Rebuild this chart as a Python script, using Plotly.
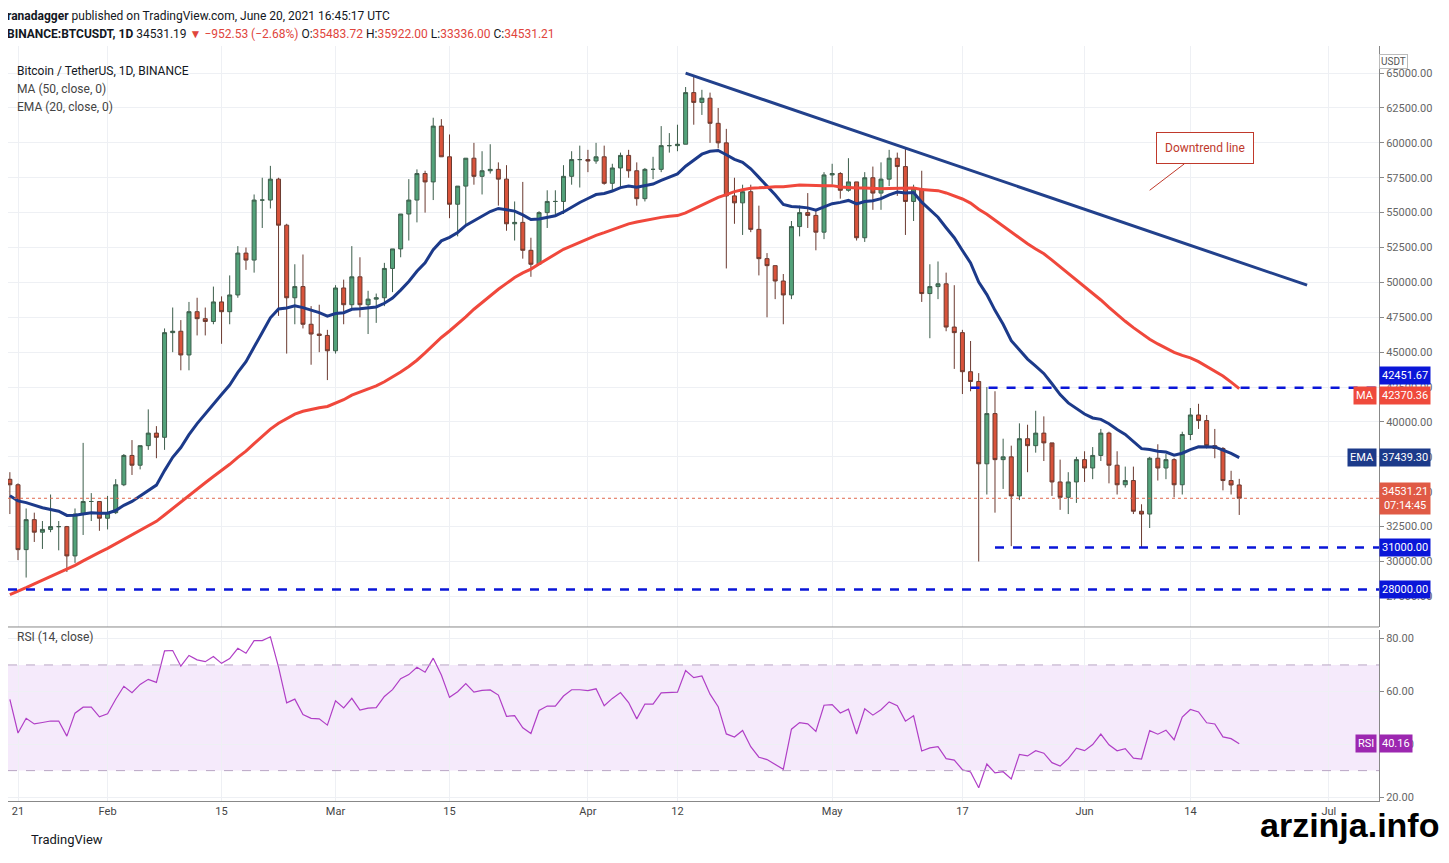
import numpy as np
import pandas as pd
import plotly.graph_objects as go
from plotly.subplots import make_subplots

# history closes (Dec 1 2020 - Jan 19 2021) used only for indicator warm-up
hist_close = [18800,19200,19450,18700,19150,19350,19170,18320,18550,18250,18040,18800,19170,19270,19440,21380,22840,23110,23860,23480,22750,23820,23250,23720,24660,26440,26250,27040,27360,28880,28990,
              29400,32200,33000,31990,33970,36820,39370,40670,40240,38240,35540,33910,37390,39150,36770,36010,35820,36630,35890]

dates = pd.date_range("2021-01-20", "2021-06-20", freq="D")
close = [35500,30850,33000,32100,32300,32500,32500,30400,33400,34300,34300,33100,
         33500,35500,37600,36900,38300,39200,38900,46400,46500,44800,47900,47400,47200,48600,47900,49100,52100,51600,55900,55900,57400,54100,48900,49700,47000,46300,46200,45100,
         49600,48400,50400,48400,48800,48900,51000,52400,54900,55900,57800,57200,61200,59000,55600,56900,58900,57600,58000,58100,57400,54200,54300,52300,51300,55000,55800,55800,57600,58800,58800,
         58700,59000,57100,58200,59100,58000,56000,58100,58100,59800,59800,59900,63600,62900,63200,61400,60000,56200,55700,56500,53800,51700,51200,50100,49100,54000,55000,54800,53600,57700,
         57800,56600,57200,53200,57500,56400,57400,58900,58300,55800,56700,49200,49700,49900,46800,46400,43600,42900,37000,40600,37300,37500,34700,38800,38300,39200,38500,35700,34600,35700,37300,
         36700,37600,39200,36900,35500,35800,33600,33400,37400,36700,37300,35500,39100,40500,40100,38300,38100,35800,35483.72,34531.21]
high = [36400,35600,33800,33500,32900,34800,32900,32550,33800,38500,34900,34300,
        34700,35900,37700,38700,38300,40900,39700,46700,48200,47300,48600,48900,48200,49700,49000,50500,52600,52500,56300,57500,58350,57500,54200,51300,52000,48300,48400,46600,
        49800,50200,52600,51800,49400,49200,51400,52400,54900,57400,58100,58000,61800,61700,60600,56900,58900,60000,59400,59900,58600,58400,55800,57200,53200,55100,56600,56600,58400,59400,59800,
        59500,60000,59800,58500,59300,59500,58600,58200,59000,61200,60700,61300,64000,64850,63800,63600,62500,61000,57500,57000,57000,55500,52100,51200,50600,54400,55500,56400,55200,57900,
        58500,57900,58900,57200,57900,58300,58600,59500,59300,59600,57000,58000,51300,51500,50700,49800,46600,45800,43500,42500,42200,38800,38300,39900,39800,40800,40400,38200,37300,36400,37500,
        37900,38200,39500,39300,37900,36800,36800,34100,37500,38400,37700,37400,39300,41000,41300,40500,39500,38200,36500,35922]
low = [33400,30100,28850,31400,30900,32100,30800,29250,29900,31900,32900,32200,
       32300,33400,35400,36200,36600,38000,37400,38000,45000,43700,43700,46200,46200,47000,45600,47000,48900,50900,50700,53900,55300,47600,44900,47000,46700,44100,45000,43000,
       44900,47000,48100,47500,46300,47100,48300,49300,51800,53000,54300,55000,55900,59000,54600,53300,54100,57000,56300,57800,55500,53700,53000,51700,50400,51300,53900,54700,54900,57000,56800,
       57900,58500,57000,56500,56800,57500,55500,55800,57400,57900,59300,59400,59900,61300,62000,60000,59600,51000,54200,53400,53600,50500,47500,48800,47000,48800,53300,53900,52300,53100,
       57000,56000,56500,53000,52900,55200,55200,56900,56200,53400,54400,48600,46000,48800,46500,43800,42000,42200,30000,34800,33500,35200,31100,34400,36400,37800,37200,34700,33700,33400,34200,
       35700,35900,37200,35600,34800,35300,33400,31000,32400,35800,35900,34600,34800,38700,39500,38100,37400,35100,34800,33336]

tick_dates = ["2021-01-21","2021-02-01","2021-02-15","2021-03-01","2021-03-15","2021-04-01","2021-04-12","2021-05-01","2021-05-17","2021-06-01","2021-06-14","2021-07-01"]
tick_text = ["21","Feb","15","Mar","15","Apr","12","May","17","Jun","14","Jul"]
price_ticks = list(range(27500, 65001, 2500))

# indicators
allc = pd.Series(hist_close + close, dtype=float)
n0 = len(hist_close)
opens = (hist_close[-1:] + close[:-1])
opens[-1] = 35483.72
ma50 = allc.rolling(50, min_periods=1).mean().iloc[n0:].values
ema20 = allc.ewm(span=20, adjust=False).mean().iloc[n0:].values
d = allc.diff()
up = d.clip(lower=0).ewm(alpha=1/14, adjust=False).mean()
dn = (-d.clip(upper=0)).ewm(alpha=1/14, adjust=False).mean()
rsi = (100 - 100/(1+up/dn)).iloc[n0:].values

fig = make_subplots(rows=2, cols=1, shared_xaxes=True, vertical_spacing=0.004, row_heights=[0.772, 0.228])
fig.add_trace(go.Candlestick(x=dates, open=opens, high=high, low=low, close=close,
    increasing=dict(line=dict(color="#3d5e4c", width=1), fillcolor="#53a27a"),
    decreasing=dict(line=dict(color="#6b3a30", width=1), fillcolor="#d9533b"),
    whiskerwidth=0, showlegend=False), row=1, col=1)
fig.add_trace(go.Scatter(x=dates, y=ema20, mode="lines", line=dict(color="#1c3a8a", width=3), showlegend=False), row=1, col=1)
fig.add_trace(go.Scatter(x=dates, y=ma50, mode="lines", line=dict(color="#f0483c", width=3), showlegend=False), row=1, col=1)
fig.add_trace(go.Scatter(x=dates, y=rsi, mode="lines", line=dict(color="#b03fc6", width=1.2), showlegend=False), row=2, col=1)

x0, x1 = "2021-01-19 18:30", "2021-07-07 04:00"
shapes = [
    dict(type="rect", xref="x2", yref="y2", x0=x0, x1=x1, y0=30, y1=70, fillcolor="rgba(200,140,235,0.18)", line=dict(width=0), layer="below"),
    dict(type="line", xref="x2", yref="y2", x0=x0, x1=x1, y0=70, y1=70, line=dict(color="#b9a6c4", width=1, dash="dash")),
    dict(type="line", xref="x2", yref="y2", x0=x0, x1=x1, y0=30, y1=30, line=dict(color="#b9a6c4", width=1, dash="dash")),
    dict(type="line", xref="x", yref="y", x0="2021-04-13", x1="2021-06-28 08:00", y0=65000, y1=49800, line=dict(color="#22418c", width=3)),
    dict(type="line", xref="x", yref="y", x0="2021-05-18", x1=x1, y0=42451.67, y1=42451.67, line=dict(color="#0a16d8", width=2.5, dash="dash")),
    dict(type="line", xref="x", yref="y", x0="2021-05-21", x1=x1, y0=31000, y1=31000, line=dict(color="#0a16d8", width=2.5, dash="dash")),
    dict(type="line", xref="x", yref="y", x0=x0, x1=x1, y0=28000, y1=28000, line=dict(color="#0a16d8", width=2.5, dash="dash")),
    dict(type="line", xref="x", yref="y", x0=x0, x1=x1, y0=34531.21, y1=34531.21, line=dict(color="#e0694f", width=1, dash="dot")),
    dict(type="line", xref="paper", yref="paper", x0=0, x1=1, y0=0.2305, y1=0.2305, line=dict(color="#888", width=1)),
]

def tag(y, text, bg, yref="y", tagtext=None):
    a = [dict(xref="paper", yref=yref, x=1.0, y=y, text=text, showarrow=False, xanchor="left",
              font=dict(color="white", size=11, family="Roboto"), bgcolor=bg, borderpad=2)]
    if tagtext:
        a.append(dict(xref="paper", yref=yref, x=0.9985, y=y, text=tagtext, showarrow=False, xanchor="right",
                      font=dict(color="white", size=11, family="Roboto"), bgcolor=bg, borderpad=2))
    return a

ann = []
ann += tag(42451.67 + 900, "42451.67", "#0a16d8")
ann += tag(42370.36 - 500, "42370.36", "#ef4a3c", tagtext="MA")
ann += tag(37439.30, "37439.30", "#1c3a8a", tagtext="EMA")
ann += tag(34531.21, "34531.21<br>07:14:45", "#e05a45")
ann += tag(31000, "31000.00", "#0a16d8")
ann += tag(28000, "28000.00", "#0a16d8")
ann += tag(rsi[-1], "%.2f" % rsi[-1], "#9c27b0", yref="y2", tagtext="RSI")
ann.append(dict(xref="paper", yref="y", x=1.0, y=65800, text="USDT", showarrow=False, xanchor="left",
                font=dict(size=10, color="#555"), bordercolor="#bbb", borderwidth=1, bgcolor="white"))
hdr = dict(xref="paper", yref="paper", showarrow=False, xanchor="left", font=dict(size=12, color="#131722", family="Roboto"))
ann.append(dict(hdr, x=-0.002, y=1.052, text="<b>ranadagger</b> published on TradingView.com, June 20, 2021 16:45:17 UTC"))
ann.append(dict(hdr, x=-0.002, y=1.028, text="<b>BINANCE:BTCUSDT, 1D</b> 34531.19 <span style='color:#e0453c'>▼ −952.53 (−2.68%)</span> O:<span style='color:#e0453c'>35483.72</span> H:<span style='color:#e0453c'>35922.00</span> L:<span style='color:#e0453c'>33336.00</span> C:<span style='color:#e0453c'>34531.21</span>"))
ann.append(dict(hdr, x=0.005, y=0.979, text="Bitcoin / TetherUS, 1D, BINANCE"))
ann.append(dict(hdr, x=0.005, y=0.955, text="MA (50, close, 0)", font=dict(size=12, color="#444")))
ann.append(dict(hdr, x=0.005, y=0.931, text="EMA (20, close, 0)", font=dict(size=12, color="#444")))
ann.append(dict(hdr, x=0.005, y=0.205, text="RSI (14, close)", font=dict(size=12, color="#444")))
ann.append(dict(hdr, x=0.015, y=-0.063, text="TradingView", font=dict(size=13, color="#131722")))
ann.append(dict(xref="paper", yref="paper", x=1.045, y=-0.06, xanchor="right", showarrow=False,
                text="<b>arzinja.info</b>", font=dict(size=34, color="black", family="Liberation Sans")))
ann.append(dict(xref="x", yref="y", x="2021-06-09", y=56600, ax=55, ay=-42, text="Downtrend line",
                showarrow=True, arrowhead=0, arrowwidth=1, arrowcolor="#c0392b",
                font=dict(size=12, color="#c0392b"), bordercolor="#c0392b", borderwidth=1, borderpad=8, bgcolor="white"))

fig.update_layout(width=1449, height=863, margin=dict(l=0, r=78, t=38, b=70),
                  paper_bgcolor="white", plot_bgcolor="white", shapes=shapes, annotations=ann,
                  font=dict(family="Roboto", size=11, color="#444"))
fig.update_xaxes(range=[x0, x1], rangeslider_visible=False, tickvals=tick_dates, ticktext=tick_text,
                 showgrid=True, gridcolor="#eef0f4", showline=False, ticks="")
fig.update_xaxes(showticklabels=False, row=1, col=1)
fig.update_xaxes(showline=True, linecolor="#888", row=2, col=1)
fig.update_yaxes(side="right", showgrid=True, gridcolor="#eef0f4", showline=True, linecolor="#888",
                 ticks="outside", ticklen=4, tickcolor="#888", tickfont=dict(size=11, color="#666"))
fig.update_yaxes(range=[25340, 66940], tickvals=price_ticks, ticktext=["%.2f" % v for v in price_ticks], row=1, col=1)
fig.update_yaxes(range=[18.5, 83.4], tickvals=[20, 40, 60, 80], ticktext=["20.00", "40.00", "60.00", "80.00"], row=2, col=1)
fig.write_html("out.html")
